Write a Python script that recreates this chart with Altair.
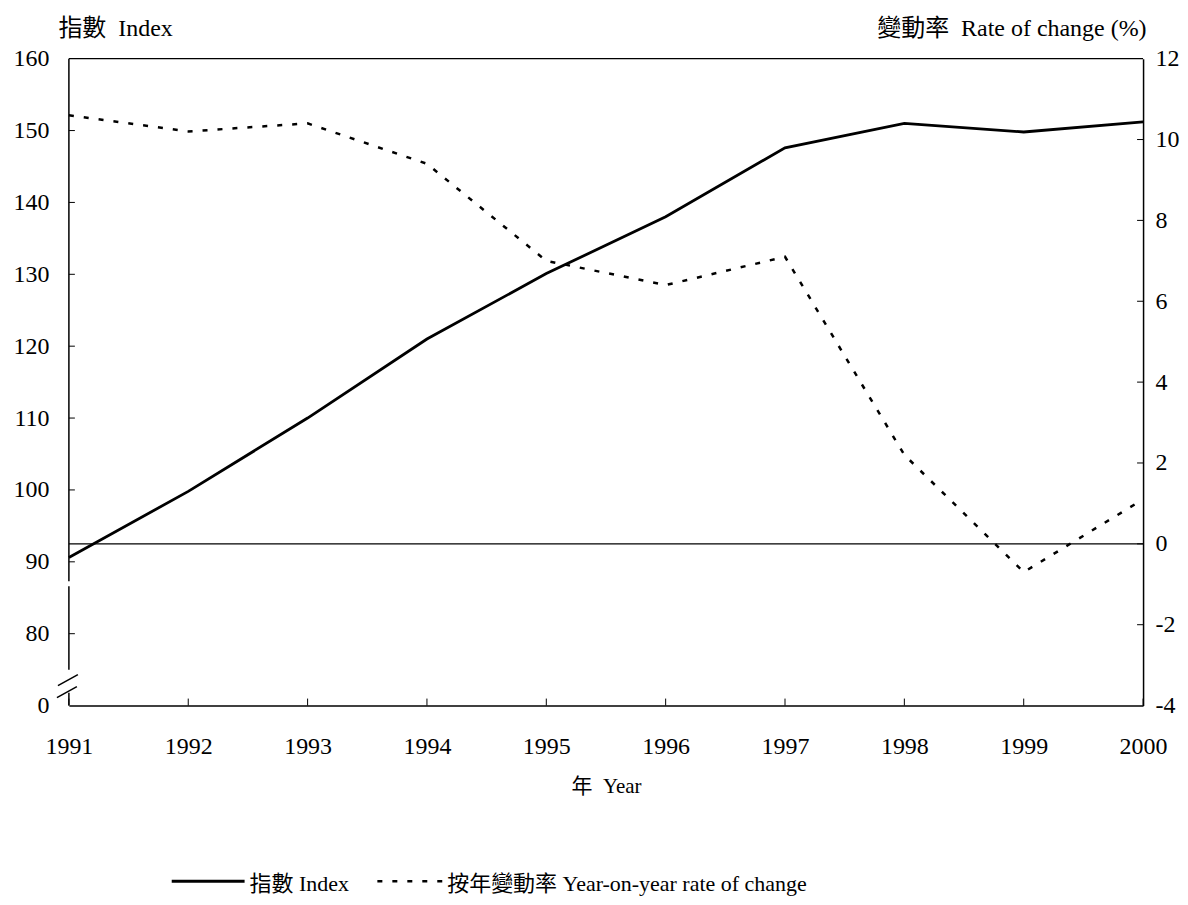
import altair as alt
import pandas as pd

years = [1991, 1992, 1993, 1994, 1995, 1996, 1997, 1998, 1999, 2000]
index_vals = [90.6, 99.8, 110.0, 121.0, 130.1, 138.0, 147.6, 151.0, 149.8, 151.2]
rate_vals = [10.6, 10.2, 10.4, 9.4, 7.0, 6.4, 7.1, 2.2, -0.7, 1.1]

left_ticks = [70, 80, 90, 100, 110, 120, 130, 140, 150, 160]
right_ticks = [-4, -2, 0, 2, 4, 6, 8, 10, 12]
left_axis_segments_start = [160, 86.6, 71.8]
left_axis_segments_end = [87.3, 75.0, 70]

FONT = "Liberation Serif, Noto Sans CJK TC"
W, H = 1076, 648
SP = "\u00a0\u00a0"

df = pd.DataFrame({"year": years, "index": index_vals, "rate": rate_vals})
df_lt = pd.DataFrame({"v": left_ticks[1:-1]})
df_rt = pd.DataFrame({"v": right_ticks[1:-1]})
df_xt = pd.DataFrame({"year": years})
df_seg = pd.DataFrame({"a": left_axis_segments_start, "b": left_axis_segments_end})
df_one = pd.DataFrame({"k": [0]})

x_scale = alt.Scale(domain=[1991, 2000], nice=False, zero=False)
x_axis = alt.Axis(values=years, format="d", ticks=False, grid=False, domain=True,
                  domainColor="black", domainWidth=1.5, labelPadding=29, labelFlush=False,
                  title="年" + SP + "Year", titlePadding=17, titleFontSize=21)
X = alt.X("year:Q", scale=x_scale, axis=x_axis)

ls = alt.Scale(domain=[70, 160], nice=False, zero=False)
rs = alt.Scale(domain=[-4, 12], nice=False, zero=False)

left_axis = alt.Axis(values=left_ticks, labelExpr="datum.value == 70 ? '0' : datum.label",
                     ticks=False, domain=False, grid=False, labelPadding=20, labelFlush=False,
                     title="指數" + SP + "Index", titleAngle=0, titleAlign="left", titleX=-11,
                     titleY=-30, titleBaseline="middle")
right_axis = alt.Axis(values=right_ticks, orient="right", ticks=False, domain=True,
                      domainColor="black", domainWidth=1.5, grid=False, labelPadding=12,
                      labelFlush=False,
                      labelExpr="datum.value < 0 ? '-' + abs(datum.value) : '' + datum.value",
                      title="變動率" + SP + "Rate of change (%)", titleAngle=0, titleAlign="right",
                      titleX=3, titleY=-30, titleBaseline="middle")

base = alt.Chart(df)

index_line = base.mark_line(color="black", strokeWidth=2.8).encode(
    x=X, y=alt.Y("index:Q", scale=ls, axis=left_axis))

rate_line = base.mark_line(color="black", strokeWidth=2.5, strokeDash=[5, 10]).encode(
    x=X, y=alt.Y("rate:Q", scale=rs, axis=right_axis))

left_tick_marks = alt.Chart(df_lt).mark_rule(color="black", strokeWidth=1).encode(
    y=alt.Y("v:Q", scale=ls, axis=None), x=alt.value(0), x2=alt.value(6))

right_tick_marks = alt.Chart(df_rt).mark_rule(color="black", strokeWidth=1).encode(
    y=alt.Y("v:Q", scale=rs, axis=None), x=alt.value(W), x2=alt.value(W - 6))

left_segs = alt.Chart(df_seg).mark_rule(color="black", strokeWidth=1.5).encode(
    y=alt.Y("a:Q", scale=ls, axis=None), y2="b:Q", x=alt.value(0))

top_border = alt.Chart(df_one).mark_rule(color="black", strokeWidth=1.2).encode(
    y=alt.Y(datum=160, scale=ls, axis=None), x=alt.value(0), x2=alt.value(W))

zero_line = alt.Chart(df_one).mark_rule(color="black", strokeWidth=1.2).encode(
    y=alt.Y(datum=0, scale=rs, axis=None), x=alt.value(0), x2=alt.value(W))

x_tick_marks = alt.Chart(df_xt).mark_rule(color="black", strokeWidth=1).encode(
    x=X, y=alt.value(H), y2=alt.value(H - 7))

slash1 = alt.Chart(df_one).mark_rule(color="black", strokeWidth=1.5).encode(
    x=alt.value(-11), x2=alt.value(9), y=alt.value(628), y2=alt.value(617))
slash2 = alt.Chart(df_one).mark_rule(color="black", strokeWidth=1.5).encode(
    x=alt.value(-12), x2=alt.value(8), y=alt.value(640), y2=alt.value(629))

# legend
leg_solid = alt.Chart(df_one).mark_rule(color="black", strokeWidth=2.8).encode(
    x=alt.value(103), x2=alt.value(176), y=alt.value(824))
leg_solid_t = alt.Chart(df_one).mark_text(align="left", baseline="middle", font=FONT,
                                          fontSize=22, color="black").encode(
    x=alt.value(181), y=alt.value(827), text=alt.value("指數 Index"))
leg_dash = alt.Chart(df_one).mark_rule(color="black", strokeWidth=2.4, strokeDash=[5, 10]).encode(
    x=alt.value(309), x2=alt.value(376), y=alt.value(824))
leg_dash_t = alt.Chart(df_one).mark_text(align="left", baseline="middle", font=FONT,
                                         fontSize=22, color="black").encode(
    x=alt.value(379), y=alt.value(827), text=alt.value("按年變動率 Year-on-year rate of change"))

chart = alt.layer(
    index_line, rate_line, left_tick_marks, right_tick_marks, left_segs, top_border,
    zero_line, x_tick_marks, slash1, slash2, leg_solid, leg_solid_t, leg_dash, leg_dash_t
).resolve_scale(y="independent").properties(
    width=W, height=H, autosize="none",
    padding={"left": 61, "top": 50, "right": 37, "bottom": 191},
    background="white",
).configure_view(stroke=None).configure_axis(
    labelFont=FONT, titleFont=FONT, labelFontSize=24, titleFontSize=24,
    labelColor="black", titleColor="black", titleFontWeight="normal",
)

chart.save("out.html", embed_options={"renderer": "svg", "actions": False})
